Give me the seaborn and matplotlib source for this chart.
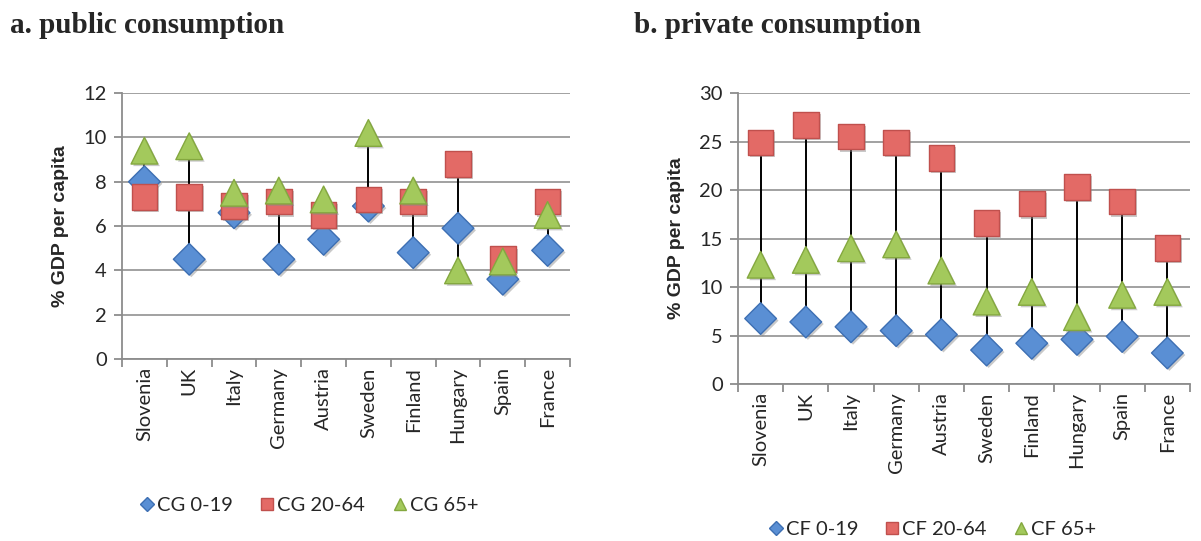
import numpy as np
import pandas as pd
import matplotlib
matplotlib.use("Agg")
import matplotlib.pyplot as plt
import matplotlib.patheffects as pe
from matplotlib.ticker import MultipleLocator, FixedLocator
import seaborn as sns

sns.set_theme(style="white")
plt.rcParams["font.family"] = ["Lato", "DejaVu Sans"]

countries = ["Slovenia", "UK", "Italy", "Germany", "Austria",
             "Sweden", "Finland", "Hungary", "Spain", "France"]

# public consumption, % of GDP per capita
cg_young = [8.0, 4.5, 6.6, 4.5, 5.4, 6.9, 4.8, 5.9, 3.6, 4.9]
cg_work = [7.3, 7.3, 6.9, 7.1, 6.5, 7.2, 7.1, 8.8, 4.5, 7.1]
cg_old = [9.4, 9.6, 7.5, 7.6, 7.2, 10.2, 7.6, 4.0, 4.4, 6.5]

# private consumption, % of GDP per capita
cf_young = [6.75, 6.4, 5.9, 5.5, 5.1, 3.5, 4.2, 4.6, 4.9, 3.2]
cf_work = [24.9, 26.7, 25.5, 24.9, 23.3, 16.6, 18.6, 20.3, 18.8, 14.0]
cf_old = [12.3, 12.8, 14.0, 14.4, 11.7, 8.5, 9.5, 6.9, 9.2, 9.5]

cg_labels = ["CG 0-19", "CG 20-64", "CG 65+"]
cf_labels = ["CF 0-19", "CF 20-64", "CF 65+"]

fills = ["#5a8fd4", "#e36a66", "#a3c95c"]
edges = ["#3d6fb3", "#c0504d", "#84a83f"]
marker_shapes = ["D", "s", "^"]
marker_sizes = [260, 340, 370]


def long_table(series, labels):
    frames = []
    for vals, lab in zip(series, labels):
        frames.append(pd.DataFrame({"country": countries, "value": vals, "group": lab}))
    return pd.concat(frames, ignore_index=True)


def draw_panel(ax, series, labels, ymax, ystep, title, title_x, legend_x, legend_y):
    df = long_table(series, labels)
    ax.set_xlim(-0.5, len(countries) - 0.5)

    # high-low connectors spanning each country's values
    spans = df.groupby("country", sort=False)["value"].agg(["min", "max"])
    xs = [countries.index(c) for c in spans.index]
    ax.vlines(xs, spans["min"], spans["max"], color="black", lw=1.4, zorder=2)

    shadow = [pe.SimplePatchShadow(offset=(1.5, -1.5), shadow_rgbFace="#888888", alpha=0.45),
              pe.Normal()]
    for lab, fc, ec, mk, ms in zip(labels, fills, edges, marker_shapes, marker_sizes):
        sub = df[df["group"] == lab]
        sc = sns.scatterplot(data=sub, x="country", y="value", ax=ax, marker=mk,
                             s=ms, color=fc, edgecolor=ec, linewidth=1.0,
                             zorder=3, label=lab, legend=False)
        sc.collections[-1].set_path_effects(shadow)

    ax.set_ylim(0, ymax)
    ax.yaxis.set_major_locator(MultipleLocator(ystep))
    ax.grid(axis="y", color="#9a9a9a", lw=1.3)
    ax.grid(axis="x", visible=False)
    ax.set_axisbelow(True)
    for side in ["top", "right"]:
        ax.spines[side].set_visible(False)
    for side in ["left", "bottom"]:
        ax.spines[side].set_color("#8c8c8c")
        ax.spines[side].set_linewidth(1.3)

    ax.set_xticks(range(len(countries)))
    ax.set_xticklabels(countries, rotation=90, fontsize=14.5)
    ax.xaxis.set_minor_locator(FixedLocator(np.arange(-0.5, len(countries), 1.0)))
    ax.tick_params(axis="x", which="major", length=0, pad=6)
    ax.tick_params(axis="x", which="minor", length=6, width=1.3, color="#8c8c8c",
                   direction="out", bottom=True)
    ax.tick_params(axis="y", length=6, width=1.3, color="#8c8c8c", direction="out",
                   labelsize=14.5, left=True, pad=5)
    ax.set_xlabel("")
    ax.set_ylabel("% GDP per capita", fontsize=14, fontweight="bold",
                  family=["Liberation Sans", "DejaVu Sans"], labelpad=10)

    fig = ax.figure
    fig.text(title_x, 0.952, title, fontsize=21, fontweight="bold",
             family=["Liberation Serif", "DejaVu Serif"], va="center", ha="left")

    handles = []
    for lab, fc, ec, mk in zip(labels, fills, edges, marker_shapes):
        handles.append(plt.Line2D([], [], ls="none", marker=mk, markersize=8.5 if mk != "D" else 7,
                                  markerfacecolor=fc, markeredgecolor=ec, label=lab))
    fig.legend(handles=handles, loc="center", ncol=3, frameon=False,
               bbox_to_anchor=(legend_x, legend_y),
               fontsize=14.5, handletextpad=0.1, columnspacing=1.3, handlelength=0.8)


fig = plt.figure(figsize=(12.01, 5.41), dpi=100)
ax1 = fig.add_axes([0.1016, 0.3364, 0.373, 0.4916])
ax2 = fig.add_axes([0.6145, 0.2902, 0.3763, 0.5378])

draw_panel(ax1, [cg_young, cg_work, cg_old], cg_labels, 12, 2,
           "a. public consumption", 0.008, 0.257, 0.066)
draw_panel(ax2, [cf_young, cf_work, cf_old], cf_labels, 30, 5,
           "b. private consumption", 0.528, 0.776, 0.022)

fig.savefig("out.png", dpi=100, facecolor="white")
